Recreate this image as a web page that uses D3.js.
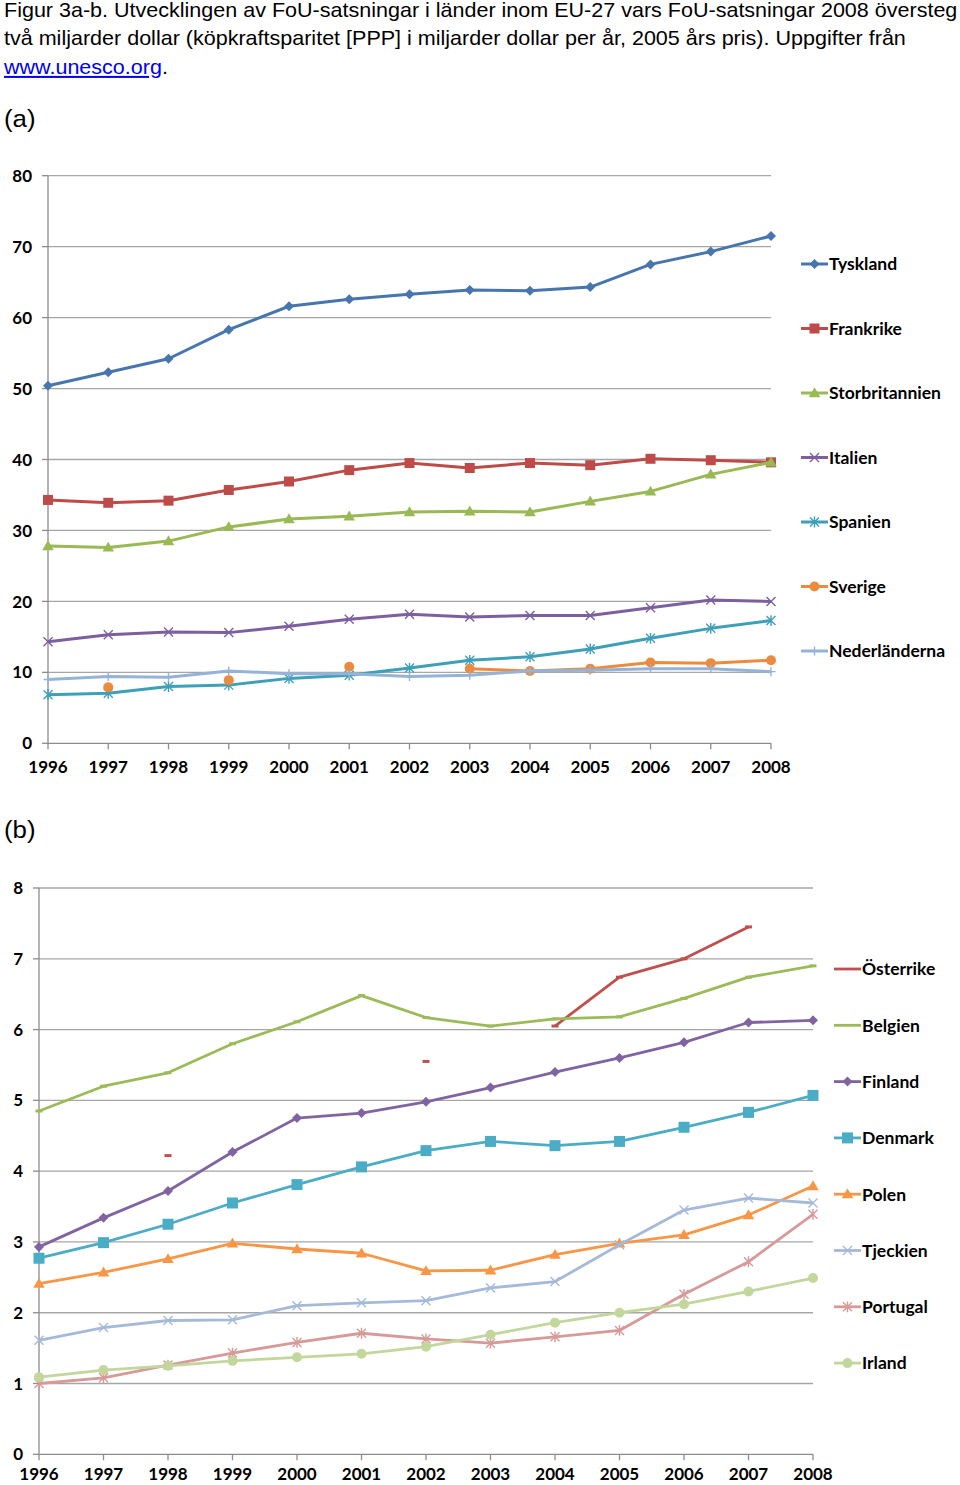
<!DOCTYPE html>
<html><head><meta charset="utf-8">
<script src="https://cdn.jsdelivr.net/npm/d3@7"></script>
<style>body{margin:0;background:#fff} svg{display:block}</style>
</head><body><svg id="c" width="960" height="1485"></svg>
<script>
// ---------- DATA ----------
const years = [1996,1997,1998,1999,2000,2001,2002,2003,2004,2005,2006,2007,2008];
const yTicksA = [0,10,20,30,40,50,60,70,80];
const yTicksB = [0,1,2,3,4,5,6,7,8];

const namesA = ["Tyskland","Frankrike","Storbritannien","Italien","Spanien","Sverige","Nederländerna"];
const tyskland       = [50.4,52.3,54.2,58.3,61.6,62.6,63.3,63.9,63.8,64.3,67.5,69.3,71.5];
const frankrike      = [34.3,33.9,34.2,35.7,36.9,38.5,39.5,38.8,39.5,39.2,40.1,39.9,39.6];
const storbritannien = [27.8,27.6,28.5,30.5,31.6,32.0,32.6,32.7,32.6,34.1,35.5,37.9,39.6];
const italien        = [14.3,15.3,15.7,15.6,16.5,17.5,18.2,17.8,18.0,18.0,19.1,20.2,20.0];
const spanien        = [6.85,7.05,8.0,8.2,9.15,9.6,10.6,11.7,12.2,13.3,14.8,16.2,17.3];
const sverige        = [null,7.9,null,8.9,null,10.8,null,10.5,10.2,10.5,11.4,11.3,11.7];
const nederlanderna  = [9.0,9.4,9.3,10.2,9.8,9.8,9.4,9.6,10.2,10.3,10.5,10.5,10.1];

const namesB = ["Österrike","Belgien","Finland","Denmark","Polen","Tjeckien","Portugal","Irland"];
const osterrike = [null,null,4.22,null,null,null,5.55,null,6.05,6.74,7.0,7.45,null];
const belgien   = [4.85,5.2,5.39,5.8,6.11,6.48,6.17,6.05,6.15,6.18,6.44,6.74,6.9];
const finland   = [2.93,3.34,3.72,4.27,4.75,4.82,4.98,5.18,5.4,5.6,5.82,6.1,6.13];
const denmark   = [2.77,2.99,3.25,3.55,3.81,4.06,4.29,4.42,4.36,4.42,4.62,4.83,5.07];
const polen     = [2.41,2.57,2.76,2.98,2.90,2.84,2.59,2.60,2.82,2.98,3.10,3.38,3.79];
const tjeckien  = [1.61,1.79,1.89,1.90,2.10,2.14,2.17,2.35,2.44,2.96,3.45,3.62,3.55];
const portugal  = [1.0,1.08,1.26,1.43,1.58,1.71,1.63,1.57,1.66,1.75,2.26,2.72,3.39];
const irland    = [1.09,1.19,1.25,1.32,1.37,1.42,1.52,1.69,1.86,2.0,2.12,2.30,2.49];

const titleLines = [
  "Figur 3a-b. Utvecklingen av FoU-satsningar i länder inom EU-27 vars FoU-satsningar 2008 översteg",
  "två miljarder dollar (köpkraftsparitet [PPP] i miljarder dollar per år, 2005 års pris). Uppgifter från"
];
const linkText = "www.unesco.org";

// ---------- STYLE ----------
const seriesA = [
  {name:namesA[0], values:tyskland,       color:"#4775AD", marker:"diamond"},
  {name:namesA[1], values:frankrike,      color:"#BE4B48", marker:"square"},
  {name:namesA[2], values:storbritannien, color:"#98B954", marker:"triangle"},
  {name:namesA[3], values:italien,        color:"#7D5FA0", marker:"x"},
  {name:namesA[4], values:spanien,        color:"#3E9FB8", marker:"asterisk"},
  {name:namesA[5], values:sverige,        color:"#EB8B3F", marker:"circle"},
  {name:namesA[6], values:nederlanderna,  color:"#95B3D7", marker:"plus"}
];
const seriesB = [
  {name:namesB[0], values:osterrike, color:"#C0504D", marker:"dash"},
  {name:namesB[1], values:belgien,   color:"#9BBB59", marker:"dash"},
  {name:namesB[2], values:finland,   color:"#8064A2", marker:"diamond"},
  {name:namesB[3], values:denmark,   color:"#4BACC6", marker:"square"},
  {name:namesB[4], values:polen,     color:"#F79646", marker:"triangle"},
  {name:namesB[5], values:tjeckien,  color:"#A5B9D8", marker:"x"},
  {name:namesB[6], values:portugal,  color:"#D69A99", marker:"asterisk"},
  {name:namesB[7], values:irland,    color:"#C3D69B", marker:"circle"}
];

const svg = d3.select("#c");
const LBL = "Lato, 'Open Sans', sans-serif";

// title (source text is slightly horizontally stretched)
const tt = svg.append("g").attr("transform","translate(4,0) scale(1.077,1)")
  .attr("font-family","'Liberation Sans', Arial, sans-serif").attr("font-size",20).attr("fill","#000");
tt.append("text").attr("x",0).attr("y",17).text(titleLines[0]);
tt.append("text").attr("x",0).attr("y",45).text(titleLines[1]);
const t3 = tt.append("text").attr("x",0).attr("y",74);
t3.append("tspan").attr("fill","#0000EE").attr("text-decoration","underline").text(linkText);
t3.append("tspan").text(".");
tt.append("text").attr("x",0).attr("y",127).attr("font-size",24).text("(a)");
tt.append("text").attr("x",0).attr("y",838).attr("font-size",24).text("(b)");

function markerPath(type, r){
  switch(type){
    case "diamond": return `M0,${-r}L${r},0L0,${r}L${-r},0Z`;
    case "square": return `M${-r},${-r}h${2*r}v${2*r}h${-2*r}Z`;
    case "triangle": return `M0,${-r*1.05}L${r*1.05},${r*0.75}L${-r*1.05},${r*0.75}Z`;
    case "x": return `M${-r},${-r}L${r},${r}M${-r},${r}L${r},${-r}`;
    case "asterisk": return `M${-r},${-r}L${r},${r}M${-r},${r}L${r},${-r}M0,${-r*1.2}L0,${r*1.2}`;
    case "plus": return `M0,${-r}L0,${r}M${-r},0L${r},0`;
    case "dash": return `M-3.5,-1.5h7v3h-7Z`;
  }
  return "";
}
const strokeMarkers = new Set(["x","asterisk","plus"]);

function drawMarker(g, type, color, cx, cy, size){
  if(type==="circle"){
    g.append("circle").attr("cx",cx).attr("cy",cy).attr("r",size).attr("fill",color);
  } else if(strokeMarkers.has(type)){
    g.append("path").attr("d",markerPath(type,size)).attr("transform",`translate(${cx},${cy})`)
      .attr("fill","none").attr("stroke",color).attr("stroke-width",1.4);
  } else {
    g.append("path").attr("d",markerPath(type,size)).attr("transform",`translate(${cx},${cy})`)
      .attr("fill",color);
  }
}

function chart(opts){
  const {x0,x1,yTop,yBot,yMax,yTicks,series,lineW,legX,legY0,legStep,labX,yearY,mSize} = opts;
  const x = d3.scalePoint().domain(years).range([x0,x1]);
  const y = d3.scaleLinear().domain([0,yMax]).range([yBot,yTop]);
  const g = svg.append("g");
  g.selectAll(".grid").data(yTicks.filter(d=>d>0)).join("line")
    .attr("x1",x0).attr("x2",x1).attr("y1",d=>y(d)).attr("y2",d=>y(d))
    .attr("stroke","#A6A6A6").attr("stroke-width",1.3);
  g.append("line").attr("x1",x0).attr("x2",x0).attr("y1",yTop).attr("y2",yBot).attr("stroke","#8C8C8C").attr("stroke-width",1.3);
  g.append("line").attr("x1",x0).attr("x2",x1).attr("y1",yBot).attr("y2",yBot).attr("stroke","#8C8C8C").attr("stroke-width",1.3);
  g.selectAll(".yt").data(yTicks).join("line")
    .attr("x1",x0-6).attr("x2",x0).attr("y1",d=>y(d)).attr("y2",d=>y(d)).attr("stroke","#8C8C8C").attr("stroke-width",1.3);
  g.selectAll(".xt").data(years).join("line")
    .attr("x1",d=>x(d)).attr("x2",d=>x(d)).attr("y1",yBot).attr("y2",yBot+6).attr("stroke","#8C8C8C").attr("stroke-width",1.3);
  g.selectAll(".yl").data(yTicks).join("text")
    .attr("x",labX).attr("y",d=>y(d)).attr("dy","0.36em").attr("text-anchor","end")
    .attr("font-family",LBL).attr("font-weight","bold").attr("font-size",17).text(d=>d);
  g.selectAll(".xl").data(years).join("text")
    .attr("x",d=>x(d)).attr("y",yearY).attr("text-anchor","middle")
    .attr("font-family",LBL).attr("font-weight","bold").attr("font-size",17).text(d=>d);
  const line = d3.line().defined(d=>d.v!=null).x(d=>x(d.yr)).y(d=>y(d.v));
  series.forEach(s=>{
    const pts = years.map((yr,i)=>({yr, v:s.values[i]}));
    g.append("path").datum(pts).attr("d",line).attr("fill","none")
      .attr("stroke",s.color).attr("stroke-width",lineW).attr("stroke-linejoin","round");
    const mg = g.append("g");
    pts.filter(p=>p.v!=null).forEach(p=>drawMarker(mg,s.marker,s.color,x(p.yr),y(p.v),mSize[s.marker]));
  });
  series.forEach((s,i)=>{
    const ly = legY0 + i*legStep;
    g.append("line").attr("x1",legX).attr("x2",legX+27).attr("y1",ly).attr("y2",ly)
      .attr("stroke",s.color).attr("stroke-width",lineW);
    if(s.marker!=="dash") drawMarker(g,s.marker,s.color,legX+13.5,ly,mSize[s.marker]);
    g.append("text").attr("x",legX+28).attr("y",ly).attr("dy","0.36em")
      .attr("font-family",LBL).attr("font-weight","bold").attr("font-size",17.5).text(s.name);
  });
}

chart({x0:48,x1:771,yTop:175.7,yBot:743.3,yMax:80,yTicks:yTicksA,series:seriesA,lineW:3,
  legX:801,legY0:264,legStep:64.5,labX:32,yearY:773,
  mSize:{diamond:5,square:5,triangle:5.5,x:4.5,asterisk:4.5,circle:5,plus:4.5,dash:3}});
chart({x0:39,x1:813,yTop:888,yBot:1454.3,yMax:8,yTicks:yTicksB,series:seriesB,lineW:2.8,
  legX:834,legY0:969,legStep:56.3,labX:23,yearY:1480,
  mSize:{diamond:5,square:5.5,triangle:5.5,x:4.5,asterisk:4.5,circle:5,plus:4.5,dash:3}});
</script></body></html>
